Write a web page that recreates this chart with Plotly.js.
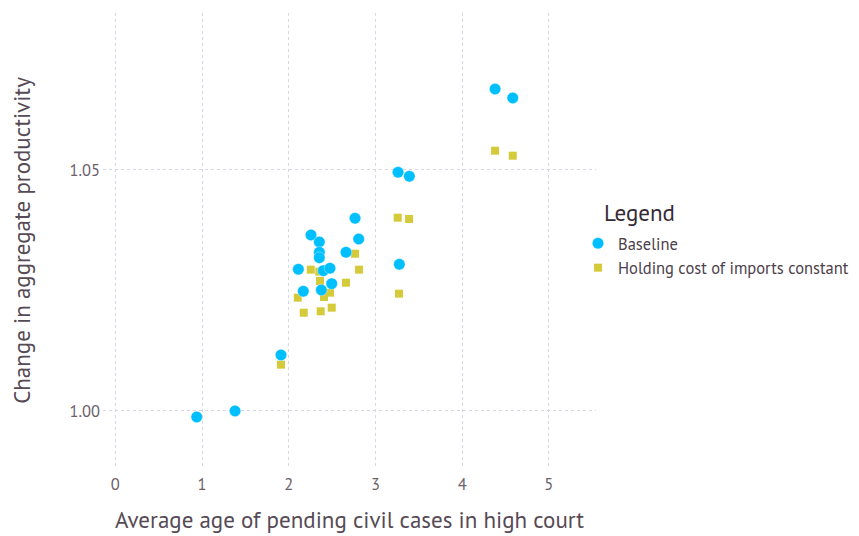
<!DOCTYPE html>
<html>
<head>
<meta charset="utf-8">
<script src="https://cdn.plot.ly/plotly-3.0.1.min.js"></script>
<style>html,body{margin:0;padding:0;background:#fff;}#chart{width:859px;height:536px;}</style>
</head>
<body>
<div id="chart"></div>
<script>
// Average age of pending civil cases in high court (years)
const baselineAge = [0.939, 1.381, 1.911, 2.111, 2.168, 2.257, 2.353, 2.353, 2.353, 2.376, 2.399, 2.476, 2.496, 2.661, 2.765, 2.807, 3.276, 3.261, 3.391, 4.380, 4.584];
const baselineProd = [0.99876, 1.0000, 1.01162, 1.02940, 1.02483, 1.03651, 1.03506, 1.03293, 1.03181, 1.02510, 1.02911, 1.02961, 1.02641, 1.03293, 1.03998, 1.03568, 1.03044, 1.04952, 1.04869, 1.06680, 1.06494];

const constAge = [0.939, 1.381, 1.911, 2.104, 2.173, 2.254, 2.353, 2.361, 2.369, 2.376, 2.407, 2.476, 2.496, 2.661, 2.765, 2.811, 3.272, 3.257, 3.388, 4.380, 4.584];
const constProd = [0.99876, 1.0000, 1.00961, 1.02351, 1.02039, 1.02932, 1.02890, 1.02697, 1.02068, 1.02510, 1.02365, 1.02454, 1.02143, 1.02662, 1.03263, 1.02932, 1.02434, 1.04010, 1.03983, 1.05400, 1.05297];

const seriesNames = ["Baseline", "Holding cost of imports constant"];
const legendTitle = "Legend";
const xTickVals = [0, 1, 2, 3, 4, 5];
const yTickVals = [1.00, 1.05];
const yTickText = ["1.00", "1.05"];

const FONT = "'PT Sans', 'Noto Sans', 'Open Sans', sans-serif";

const traces = [
  {
    type: "scatter", mode: "markers", name: seriesNames[1],
    x: constAge, y: constProd,
    marker: {symbol: "square", size: 8, color: "#D4CA3A", line: {width: 0}},
    hoverinfo: "x+y"
  },
  {
    type: "scatter", mode: "markers", name: seriesNames[0],
    x: baselineAge, y: baselineProd,
    marker: {symbol: "circle", size: 11.5, color: "#00BFFF", line: {width: 0.6, color: "rgba(255,255,255,0.6)"}},
    hoverinfo: "x+y"
  }
];

const layout = {
  width: 859, height: 536,
  margin: {l: 103, r: 263, t: 13, b: 68, pad: 0, autoexpand: false},
  paper_bgcolor: "#ffffff", plot_bgcolor: "#ffffff",
  font: {family: FONT, color: "#6c606b", size: 16},
  showlegend: true,
  legend: {
    xref: "paper", yref: "paper",
    x: 0.9635, xanchor: "left", y: 0.5319, yanchor: "top",
    traceorder: "reversed",
    font: {size: 16.5, color: "#4c404b", family: FONT},
    itemwidth: 30, tracegroupgap: 0,
    bgcolor: "rgba(0,0,0,0)"
  },
  annotations: [{
    text: legendTitle, xref: "paper", yref: "paper",
    x: 1.0122, xanchor: "left", y: 1 - (212 - 13) / 455, yanchor: "middle",
    showarrow: false, font: {size: 23, color: "#362a35", family: FONT}
  }],
  xaxis: {
    range: [-0.142, 5.544], automargin: false,
    tickvals: xTickVals, ticktext: xTickVals.map(String),
    showgrid: true, gridcolor: "#D6D6E4", gridwidth: 1, griddash: "3px,3px",
    zeroline: false, showline: false, ticks: "",
    ticklabelstandoff: 4,
    tickfont: {size: 16.5, color: "#6c606b"},
    title: {text: "Average age of pending civil cases in high court", font: {size: 23, color: "#564a55"}, standoff: 18}
  },
  yaxis: {
    range: [0.98817, 1.08257], automargin: false,
    tickvals: yTickVals, ticktext: yTickText,
    showgrid: true, gridcolor: "#D6D6E4", gridwidth: 1, griddash: "3px,3px",
    zeroline: false, showline: false, ticks: "",
    ticklabelstandoff: 2,
    tickfont: {size: 16.5, color: "#6c606b"},
    title: {text: "Change in aggregate productivity", font: {size: 23, color: "#564a55"}, standoff: 32}
  }
};

Plotly.newPlot("chart", traces, layout, {displayModeBar: false, staticPlot: true});
</script>
</body>
</html>
